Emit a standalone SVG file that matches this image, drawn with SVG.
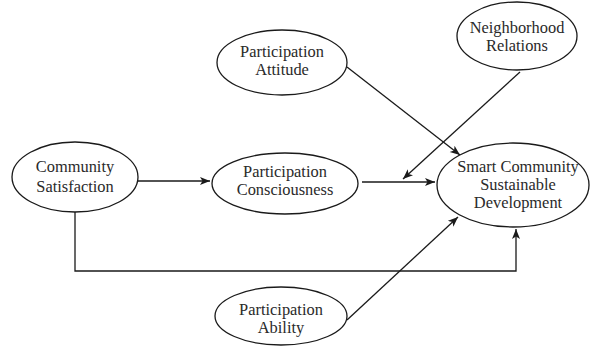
<svg xmlns="http://www.w3.org/2000/svg" width="593" height="355" viewBox="0 0 593 355">
<style>
.n ellipse{fill:#fff;stroke:#1a1a1a;stroke-width:1.3}
.n text{font-family:"Liberation Serif",serif;font-size:16.4px;fill:#2a2a2a;text-anchor:middle}
.c path{fill:none;stroke:#1a1a1a;stroke-width:1.3}
</style>
<defs>
<marker id="a" viewBox="0 0 10 10" refX="10" refY="5" markerWidth="10" markerHeight="10" markerUnits="userSpaceOnUse" orient="auto">
<path d="M0,1 L10,5 L0,9 L2.5,5 Z" fill="#1a1a1a"/>
</marker>
</defs>
<g class="c">
<path d="M138,181 H210" marker-end="url(#a)"/>
<path d="M75,212 V271 H516 V229" marker-end="url(#a)"/>
<path d="M362,182 H435" marker-end="url(#a)"/>
<path d="M347,67 L460,155" marker-end="url(#a)"/>
<path d="M520,72 L403,179" marker-end="url(#a)"/>
<path d="M347,320 L458,217" marker-end="url(#a)"/>
</g>
<g id="cs" class="n"><ellipse cx="75" cy="177" rx="63" ry="35"/><text x="75" y="172">Community</text><text x="75" y="192">Satisfaction</text></g>
<g id="pc" class="n"><ellipse cx="285" cy="183.5" rx="73" ry="30.5"/><text x="285" y="177">Participation</text><text x="285" y="195">Consciousness</text></g>
<g id="pa" class="n"><ellipse cx="282" cy="62.5" rx="65" ry="32.5"/><text x="282" y="57">Participation</text><text x="282" y="75">Attitude</text></g>
<g id="nr" class="n"><ellipse cx="517" cy="36" rx="60" ry="34"/><text x="517" y="33">Neighborhood</text><text x="517" y="51">Relations</text></g>
<g id="scsd" class="n"><ellipse cx="513" cy="185" rx="76" ry="42"/><text x="518" y="172">Smart Community</text><text x="518" y="190">Sustainable</text><text x="518" y="208">Development</text></g>
<g id="pab" class="n"><ellipse cx="281" cy="316" rx="66" ry="29"/><text x="281" y="315">Participation</text><text x="281" y="333">Ability</text></g>
</svg>
